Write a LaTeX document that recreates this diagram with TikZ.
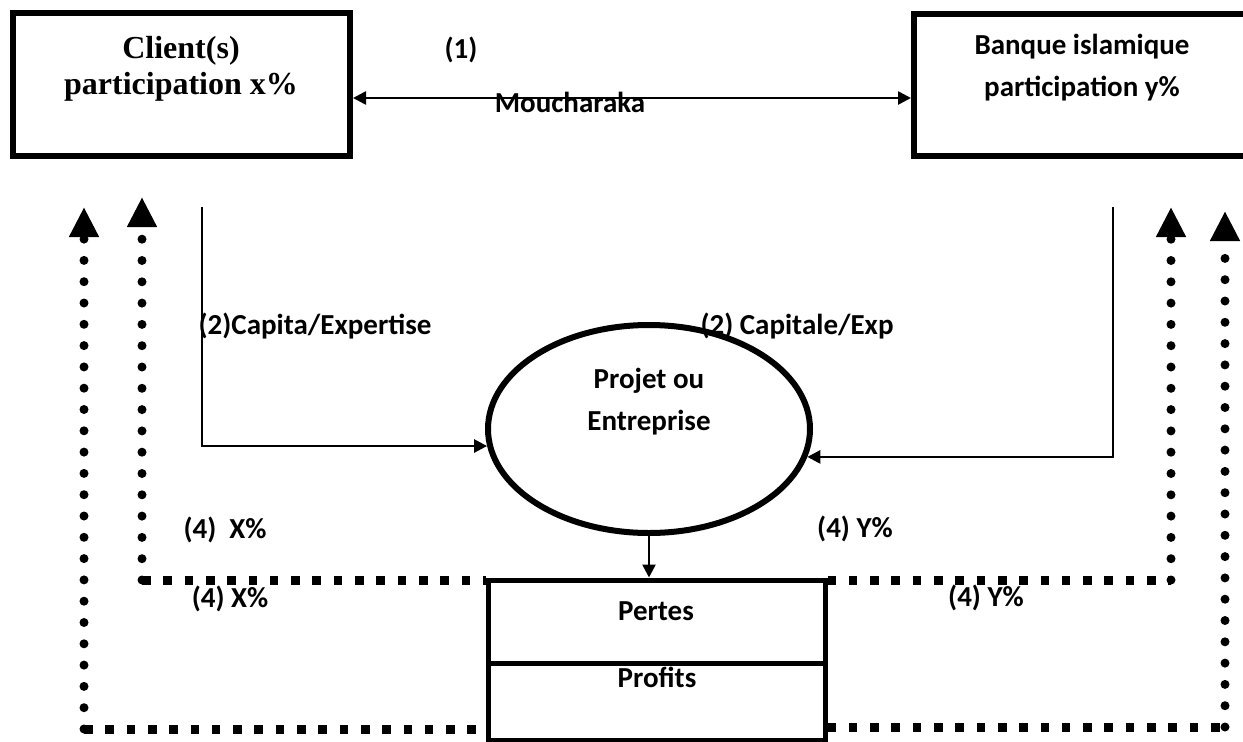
\documentclass[tikz,border=0pt]{standalone}
\usepackage{fontspec}
\setmainfont{Liberation Serif}
\newfontfamily\calfont{Carlito}
\usetikzlibrary{arrows.meta,shapes.geometric,calc}
\begin{document}
\begin{tikzpicture}[x=1pt,y=-1pt,
  box/.style={draw, line width=6pt, rectangle, inner sep=0pt},
  conn/.style={line width=2.6pt, -{Triangle[length=13pt,width=13pt]}},
  dotline/.style={line width=9pt, line cap=round, dash pattern=on 0pt off 21.3pt},
  sqline/.style={line width=9pt, dash pattern=on 8.6pt off 12.7pt},
  uptip/.style={-{Triangle[length=30pt,width=28pt]}},
  tms/.style={font=\fontsize{32pt}{36pt}\selectfont\bfseries, anchor=base, inner sep=0pt},
  cal/.style={font=\calfont\fontsize{29pt}{35pt}\selectfont\bfseries, anchor=base, inner sep=0pt}]
\useasboundingbox (0,0) rectangle (1243,742);
\clip (0,0) rectangle (1243,742);

% boxes
\node[box, minimum width=337pt, minimum height=143pt] (client) at (181.5,84.5) {};
\node[box, minimum width=336pt, minimum height=142pt] (bank) at (1082,85) {};
\node[draw, ellipse, line width=6pt, minimum width=322pt, minimum height=208pt, inner sep=0pt] (proj) at (649,429) {};
\node[box, line width=5pt, minimum width=337pt, minimum height=83pt] (pertes) at (656.5,621.5) {};
\node[box, line width=5pt, minimum width=337pt, minimum height=77pt] (profits) at (656.5,701.5) {};

% texts
\node[tms] (t1) at (181,58) {Client(s)};
\node[tms] (t2) at (181,94) {participation x\%};
\node[cal] (t3) at (1082,54) {Banque islamique};
\node[cal] (t4) at (1082,96) {participation y\%};
\node[cal] (l1) at (461,58) {(1)};
\node[cal] (l2) at (570,112) {Moucharaka};
\node[cal] (l3) at (315,334) {(2)Capita/Expertise};
\node[cal] (l4) at (797,334) {(2) Capitale/Exp};
\node[cal] (p1) at (649,388) {Projet ou};
\node[cal] (p2) at (649,430) {Entreprise};
\node[cal] (l5) at (225,538) {(4)\ \ X\%};
\node[cal] (l6) at (855,537) {(4) Y\%};
\node[cal] (l7) at (230,607) {(4) X\%};
\node[cal] (l8) at (986,606) {(4) Y\%};
\node[cal] (r1) at (656,620) {Pertes};
\node[cal] (r2) at (657,687) {Profits};

% Moucharaka
\draw[line width=2.6pt, {Triangle[length=13pt,width=13pt]}-{Triangle[length=13pt,width=13pt]}]
  ([yshift=-13.5pt]client.east) -- ([yshift=-13pt]bank.west);

% capital flows
\coordinate (a1) at (202,207);
\coordinate (a2) at (1113,207);
\draw[conn] (a1) |- (proj.186.5);
\draw[conn] (a2) |- (proj.-10.2);
\draw[conn] (proj.south) -- (proj.south |- pertes.north);

% dotted return lines
\coordinate (lo) at (84,729);   \coordinate (lotip) at (84,207);
\coordinate (li) at (142,580);  \coordinate (litip) at (142,197);
\coordinate (ri) at (1171,580); \coordinate (ritip) at (1171,207);
\coordinate (ro) at (1225,727); \coordinate (rotip) at (1225,211);
\draw[dotline, uptip] (lo) -- (lotip);
\draw[dotline, uptip] (li) -- (litip);
\draw[dotline, uptip] (ri) -- (ritip);
\draw[dotline, uptip] (ro) -- (rotip);
\draw[sqline] (li) -- (li -| pertes.west);
\draw[sqline] (pertes.east |- ri) -- (ri);
\draw[sqline] (lo) -- (lo -| profits.west);
\draw[sqline] (profits.east |- ro) -- (ro);
\end{tikzpicture}
\end{document}
